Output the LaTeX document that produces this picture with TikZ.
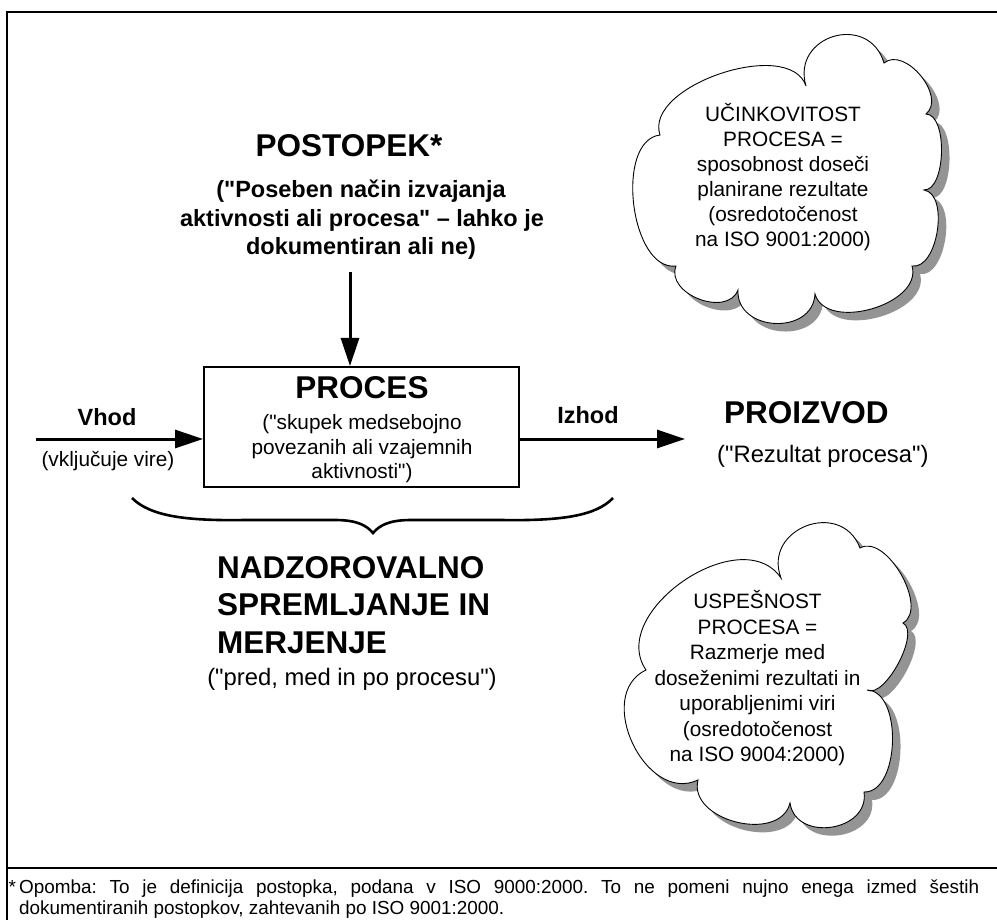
\documentclass[tikz,border=0pt]{standalone}
\usepackage{fontspec}
\setmainfont{Liberation Sans}[Ligatures=TeXOff]
\usetikzlibrary{arrows.meta,calc}
\newcommand\fbigb{\fontsize{31.5}{37}\selectfont\bfseries}
\newcommand\fmidb{\fontsize{23.5}{28.5}\selectfont\bfseries}
\newcommand\freg{\fontsize{20.8}{24.5}\selectfont}
\newcommand\fregl{\fontsize{23.8}{28}\selectfont}
\newcommand\fnt{\fontsize{18.9}{20.5}\selectfont}
\newcommand\bump[3]{.. controls ($(#1)!#3!90:(#2)$) and ($(#2)!#3!-90:(#1)$) .. (#2)}
\begin{document}
\begin{tikzpicture}[x=1pt,y=-1pt,
  txt/.style={inner sep=0pt, anchor=base},
  arr/.style={line width=3pt, -{Triangle[length=28pt,width=18pt]}},
  cloudline/.style={draw=black, line width=0.9pt, fill=white},
  shadowfill/.style={fill=black!42},
  framel/.style={line width=2pt}]
\useasboundingbox (0,0) rectangle (997,920);
\fill[white] (0,0) rectangle (997,920);
\draw[framel] (7,921) -- (7,12) -- (998,12);
\draw[framel] (7,868) -- (998,868);

% cloud 1 points
\coordinate (a1) at (660,135);
\coordinate (a2) at (806,86);
\coordinate (a3) at (884,63);
\coordinate (a4) at (926,114);
\coordinate (a5) at (924,190);
\coordinate (a6) at (912,266);
\coordinate (a7) at (815,294);
\coordinate (a8) at (738,290);
\coordinate (a9) at (676,266);
\newcommand\cloudA{(a1) \bump{a1}{a2}{52pt} \bump{a2}{a3}{53pt} \bump{a3}{a4}{27pt} \bump{a4}{a5}{22pt} \bump{a5}{a6}{26pt} \bump{a6}{a7}{40pt} \bump{a7}{a8}{42pt} \bump{a8}{a9}{30pt} \bump{a9}{a1}{46pt} -- cycle}
% cloud 2 points
\coordinate (b1) at (646,670);
\coordinate (b2) at (781,578);
\coordinate (b3) at (860,548);
\coordinate (b4) at (903,623);
\coordinate (b5) at (867,690);
\coordinate (b6) at (864,792);
\coordinate (b7) at (790,803);
\coordinate (b8) at (698,780);
\newcommand\cloudB{(b1) \bump{b1}{b2}{70pt} \bump{b2}{b3}{53pt} \bump{b3}{b4}{30pt} \bump{b4}{b5}{20pt} \bump{b5}{b6}{36pt} \bump{b6}{b7}{40pt} \bump{b7}{b8}{42pt} \bump{b8}{b1}{58pt} -- cycle}
\begin{scope}[transform canvas={shift={(8pt,-8pt)}}]
  \fill[shadowfill] \cloudA;
  \fill[shadowfill] \cloudB;
\end{scope}
\draw[cloudline] \cloudA;
\draw[cloudline] \cloudB;

% cloud texts
\node[txt, font=\freg] (u1) at (783,122) {UČINKOVITOST};
\node[txt, font=\freg] (u2) at (783,147) {PROCESA =};
\node[txt, font=\freg] (u3) at (783,172) {sposobnost doseči};
\node[txt, font=\freg] (u4) at (783,197) {planirane rezultate};
\node[txt, font=\freg] (u5) at (783,222) {(osredotočenost};
\node[txt, font=\freg] (u6) at (783,247) {na ISO 9001:2000)};
\node[txt, font=\freg] (s1) at (757.5,608.5) {USPEŠNOST};
\node[txt, font=\freg] (s2) at (757.5,634) {PROCESA =};
\node[txt, font=\freg] (s3) at (757.5,659.5) {Razmerje med};
\node[txt, font=\freg] (s4) at (757.5,685) {doseženimi rezultati in};
\node[txt, font=\freg] (s5) at (757.5,710.5) {uporabljenimi viri};
\node[txt, font=\freg] (s6) at (757.5,736) {(osredotočenost};
\node[txt, font=\freg] (s7) at (757.5,761.5) {na ISO 9004:2000)};

% postopek
\node[txt, font=\fbigb] (post) at (349,157) {POSTOPEK*};
\node[txt, font=\fmidb] (sub1) at (361,198) {("Poseben način izvajanja};
\node[txt, font=\fmidb] (sub2) at (362,227) {aktivnosti ali procesa" – lahko je};
\node[txt, font=\fmidb] (sub3) at (361,255) {dokumentiran ali ne)};

% process box
\node[draw, line width=2pt, minimum width=315pt, minimum height=120pt, inner sep=0pt] (box) at (361.5,427) {};
\node[txt, font=\fbigb] (proc) at (362,398.5) {PROCES};
\node[txt, font=\freg] (pl1) at (362,429.5) {("skupek medsebojno};
\node[txt, font=\freg] (pl2) at (362,454) {povezanih ali vzajemnih};
\node[txt, font=\freg] (pl3) at (362,478.5) {aktivnosti")};

% input / output
\node[txt, font=\fmidb] (vhod) at (107,425.5) {Vhod};
\node[txt, font=\freg] (vir) at (108,466) {(vključuje vire)};
\node[txt, font=\fmidb] (izhod) at (588,423.5) {Izhod};
\node[txt, anchor=base west, font=\fbigb] (proiz) at (724,423) {PROIZVOD};
\node[txt, anchor=base west, font=\fregl] (rez) at (717,462) {("Rezultat procesa")};

\coordinate (vin) at (36,439);
\coordinate (vout) at (685,439);
\coordinate (vtop) at (350,272);
\draw[arr] (vin) -- (vin -| box.west);
\draw[arr] (vin -| box.east) -- (vout);
\draw[arr] (vtop) -- (vtop |- box.north);

% brace
\draw[line width=2.6pt] (132,498) .. controls (150,516) and (185,521) .. (245,520) -- (335,520) .. controls (358,520) and (367,526) .. (373,533) .. controls (379,526) and (388,520) .. (411,520) -- (501,520) .. controls (561,521) and (596,516) .. (613,498);

% monitoring
\node[txt, anchor=base west, font=\fbigb] (n1) at (217,578) {NADZOROVALNO};
\node[txt, anchor=base west, font=\fbigb] (n2) at (217,615) {SPREMLJANJE IN};
\node[txt, anchor=base west, font=\fbigb] (n3) at (217,653) {MERJENJE};
\node[txt, font=\fregl] (pmp) at (352,685.5) {("pred, med in po procesu")};

% footnote
\node[anchor=north west, inner sep=0pt, text width=960pt, align=justify, font=\fnt] (fn) at (19,880) {\frenchspacing\hyphenpenalty=10000 \llap{*\,}Opomba: To je definicija postopka, podana v ISO 9000:2000. To ne pomeni nujno enega izmed šestih\linebreak dokumentiranih postopkov, zahtevanih po ISO 9001:2000.};
\end{tikzpicture}
\end{document}
